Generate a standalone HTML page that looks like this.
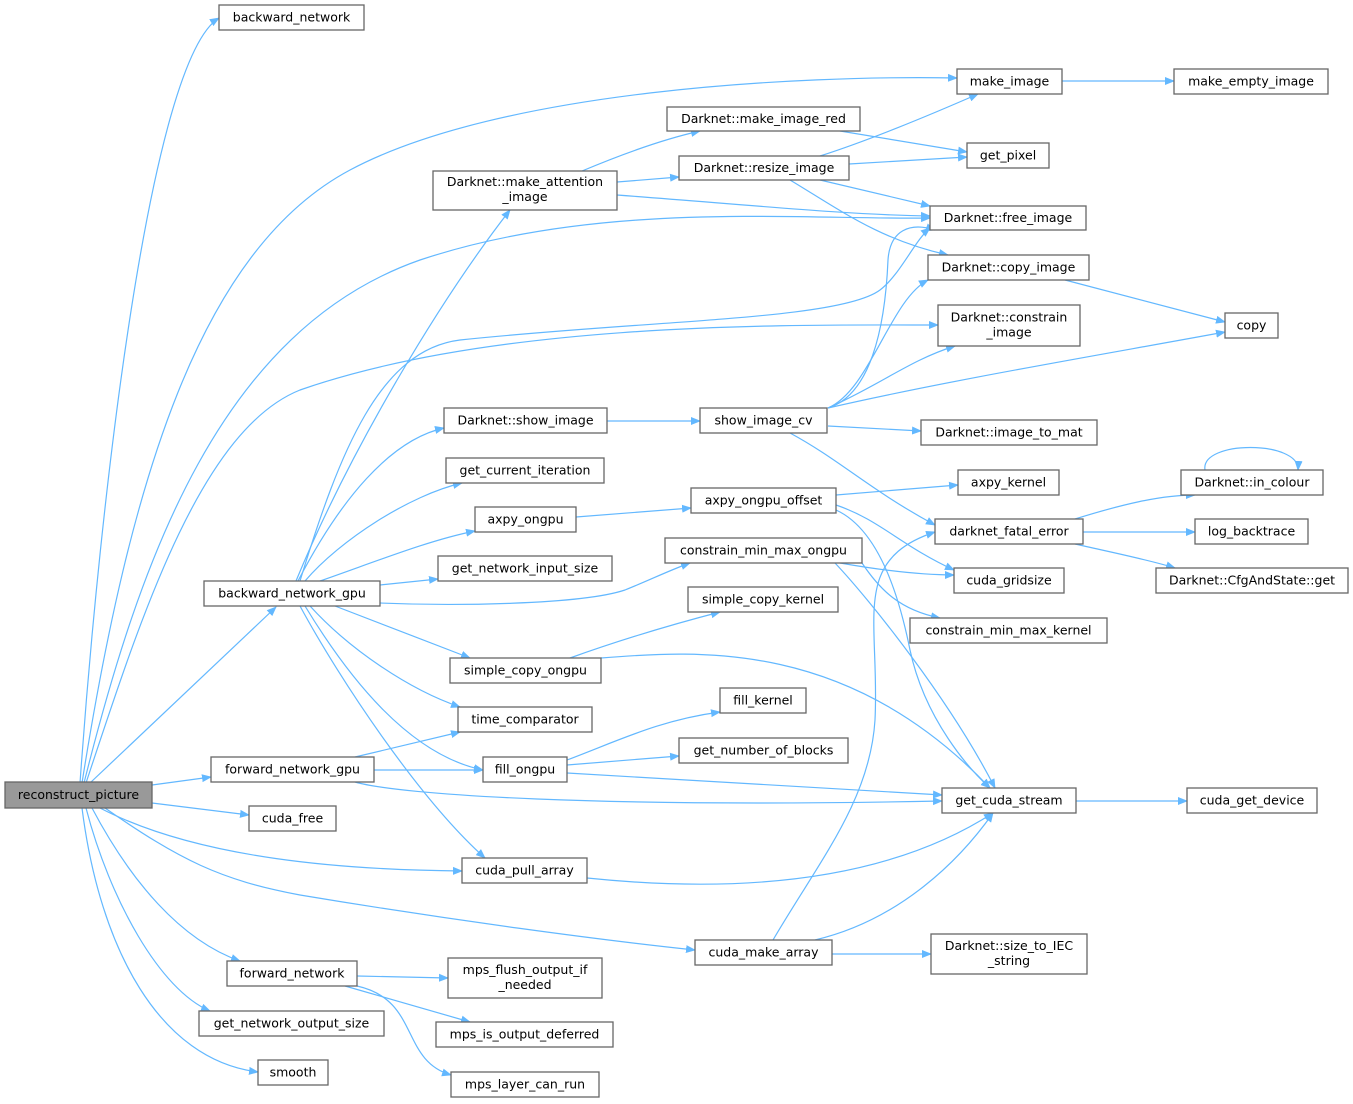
<!DOCTYPE html>
<html><head><meta charset="utf-8"><style>
html,body{margin:0;padding:0;background:#fff}
svg{display:block}
text{font-family:"DejaVu Sans","Liberation Sans",sans-serif;font-size:12.5px;fill:#000}
.n{fill:#fff;stroke:#666;stroke-width:1.3}
.e{fill:none;stroke:#63b8ff;stroke-width:1.2}
</style></head><body>
<svg width="1353" height="1104" viewBox="0 0 1353 1104" xmlns="http://www.w3.org/2000/svg">
<defs><marker id="a" viewBox="0 0 10 10" refX="9" refY="5" markerWidth="10" markerHeight="10" markerUnits="userSpaceOnUse" orient="auto"><path d="M0,1 L10,5 L0,9 z" fill="#63b8ff"/></marker></defs>
<g marker-end="url(#a)">
<path class="e" d="M80,783 C100,500 150,60 219,18"/>
<path class="e" d="M82,783 C130,480 200,250 350,170 C500,90 800,75 957,78"/>
<path class="e" d="M84,783 C140,560 220,330 420,260 C600,200 800,220 930,218"/>
<path class="e" d="M86,783 C140,620 200,430 300,390 C500,320 800,325 938,325"/>
<path class="e" d="M90,783 L276,607"/>
<path class="e" d="M152,785 L211,777"/>
<path class="e" d="M152,803 L249,815"/>
<path class="e" d="M100,808 C200,860 350,870 462,871"/>
<path class="e" d="M105,808 C180,860 220,880 300,895 C450,920 600,940 695,950"/>
<path class="e" d="M92,808 C130,880 180,940 240,961"/>
<path class="e" d="M86,808 C110,900 160,990 210,1011"/>
<path class="e" d="M82,808 C100,950 160,1060 258,1072"/>
<path class="e" d="M296,581 C350,450 440,300 510,210"/>
<path class="e" d="M300,581 C340,450 380,350 460,340 C650,320 840,320 880,290 C900,275 915,240 930,228"/>
<path class="e" d="M298,581 C340,500 390,440 444,428"/>
<path class="e" d="M305,581 C340,540 410,495 462,483"/>
<path class="e" d="M320,581 C380,560 430,540 475,531"/>
<path class="e" d="M380,585 L438,579"/>
<path class="e" d="M380,603 C450,606 580,605 625,590 C650,580 670,570 690,563"/>
<path class="e" d="M335,606 L470,658"/>
<path class="e" d="M310,606 C350,650 410,690 460,707"/>
<path class="e" d="M305,606 C350,680 410,755 483,770"/>
<path class="e" d="M300,606 C340,680 420,800 485,858"/>
<path class="e" d="M355,757 L460,732"/>
<path class="e" d="M372,770 L483,770"/>
<path class="e" d="M355,782 C400,795 600,808 942,801"/>
<path class="e" d="M357,976 L448,978"/>
<path class="e" d="M345,986 L470,1022"/>
<path class="e" d="M357,986 C420,1000 400,1060 451,1075"/>
<path class="e" d="M582,171 C620,155 660,140 700,131"/>
<path class="e" d="M617,182 L679,177"/>
<path class="e" d="M617,195 C750,205 850,215 930,216"/>
<path class="e" d="M840,131 L967,152"/>
<path class="e" d="M1062,81 L1174,81"/>
<path class="e" d="M820,156 C870,140 930,115 978,94"/>
<path class="e" d="M849,164 L967,157"/>
<path class="e" d="M820,180 L930,206"/>
<path class="e" d="M790,180 C840,210 880,240 948,255"/>
<path class="e" d="M1065,280 L1225,322"/>
<path class="e" d="M607,421 L700,421"/>
<path class="e" d="M828,408 C870,395 885,330 888,260 C890,230 910,222 935,230"/>
<path class="e" d="M828,408 C870,390 890,300 928,280"/>
<path class="e" d="M828,408 C880,385 910,360 955,346"/>
<path class="e" d="M828,408 C950,380 1100,355 1225,332"/>
<path class="e" d="M828,426 L921,431"/>
<path class="e" d="M790,433 C840,460 870,490 935,525"/>
<path class="e" d="M576,517 L691,508"/>
<path class="e" d="M836,495 L958,485"/>
<path class="e" d="M836,505 C880,520 900,545 954,570"/>
<path class="e" d="M836,510 C880,530 900,600 910,650 C925,720 970,770 990,788"/>
<path class="e" d="M1075,519 C1120,505 1160,495 1195,495"/>
<path class="e" d="M1083,532 L1195,532"/>
<path class="e" d="M1075,544 C1110,552 1150,560 1175,568"/>
<path class="e" d="M1205,470 C1200,440 1300,440 1298,470"/>
<path class="e" d="M840,563 C880,570 920,575 954,575"/>
<path class="e" d="M862,563 C880,590 900,610 940,618"/>
<path class="e" d="M835,563 C870,600 950,700 995,788"/>
<path class="e" d="M570,658 C620,640 670,625 720,612"/>
<path class="e" d="M601,658 C700,650 850,640 990,788"/>
<path class="e" d="M567,760 C620,740 660,720 720,712"/>
<path class="e" d="M567,765 L679,756"/>
<path class="e" d="M567,773 L942,795"/>
<path class="e" d="M1076,801 L1187,801"/>
<path class="e" d="M587,878 C800,900 920,860 993,813"/>
<path class="e" d="M815,940 C900,920 960,860 993,813"/>
<path class="e" d="M832,954 L931,954"/>
<path class="e" d="M773,940 C820,860 870,800 875,720 C880,620 850,560 935,532"/>
</g>
<rect x="5" y="782" width="147" height="26" fill="#999" stroke="#666" stroke-width="1.3"/><text x="78.5" y="799" text-anchor="middle">reconstruct_picture</text>
<g text-anchor="middle">
<rect class="n" x="219" y="5" width="145" height="25"/><text x="291.5" y="21.5">backward_network</text>
<rect class="n" x="957" y="69" width="105" height="25"/><text x="1009.5" y="85.5">make_image</text>
<rect class="n" x="1174" y="69" width="154" height="25"/><text x="1251" y="85.5">make_empty_image</text>
<rect class="n" x="667" y="107" width="193" height="24"/><text x="763.5" y="123">Darknet::make_image_red</text>
<rect class="n" x="679" y="156" width="170" height="24"/><text x="764" y="172">Darknet::resize_image</text>
<rect class="n" x="967" y="143" width="82" height="25"/><text x="1008" y="159.5">get_pixel</text>
<rect class="n" x="433" y="171" width="184" height="39"/><text x="525" y="186">Darknet::make_attention</text><text x="525" y="201">_image</text>
<rect class="n" x="930" y="206" width="156" height="24"/><text x="1008" y="222">Darknet::free_image</text>
<rect class="n" x="928" y="255" width="161" height="25"/><text x="1008.5" y="271.5">Darknet::copy_image</text>
<rect class="n" x="1225" y="313" width="53" height="25"/><text x="1251.5" y="329.5">copy</text>
<rect class="n" x="938" y="305" width="142" height="41"/><text x="1009" y="321.5">Darknet::constrain</text><text x="1009" y="336.5">_image</text>
<rect class="n" x="444" y="408" width="163" height="25"/><text x="525.5" y="424.5">Darknet::show_image</text>
<rect class="n" x="700" y="408" width="127" height="25"/><text x="763.5" y="424.5">show_image_cv</text>
<rect class="n" x="921" y="420" width="176" height="25"/><text x="1009" y="436.5">Darknet::image_to_mat</text>
<rect class="n" x="446" y="458" width="158" height="25"/><text x="525" y="474.5">get_current_iteration</text>
<rect class="n" x="475" y="507" width="101" height="25"/><text x="525.5" y="523.5">axpy_ongpu</text>
<rect class="n" x="691" y="488" width="145" height="25"/><text x="763.5" y="504.5">axpy_ongpu_offset</text>
<rect class="n" x="958" y="470" width="101" height="25"/><text x="1008.5" y="486.5">axpy_kernel</text>
<rect class="n" x="1181" y="470" width="142" height="25"/><text x="1252" y="486.5">Darknet::in_colour</text>
<rect class="n" x="935" y="519" width="148" height="25"/><text x="1009" y="535.5">darknet_fatal_error</text>
<rect class="n" x="1195" y="519" width="113" height="25"/><text x="1251.5" y="535.5">log_backtrace</text>
<rect class="n" x="665" y="538" width="197" height="25"/><text x="763.5" y="554.5">constrain_min_max_ongpu</text>
<rect class="n" x="954" y="568" width="110" height="25"/><text x="1009" y="584.5">cuda_gridsize</text>
<rect class="n" x="1156" y="568" width="192" height="25"/><text x="1252" y="584.5">Darknet::CfgAndState::get</text>
<rect class="n" x="438" y="556" width="174" height="25"/><text x="525" y="572.5">get_network_input_size</text>
<rect class="n" x="204" y="581" width="176" height="25"/><text x="292" y="597.5">backward_network_gpu</text>
<rect class="n" x="688" y="587" width="150" height="25"/><text x="763" y="603.5">simple_copy_kernel</text>
<rect class="n" x="910" y="618" width="197" height="25"/><text x="1008.5" y="634.5">constrain_min_max_kernel</text>
<rect class="n" x="450" y="658" width="151" height="25"/><text x="525.5" y="674.5">simple_copy_ongpu</text>
<rect class="n" x="720" y="688" width="86" height="25"/><text x="763" y="704.5">fill_kernel</text>
<rect class="n" x="458" y="707" width="134" height="25"/><text x="525" y="723.5">time_comparator</text>
<rect class="n" x="679" y="738" width="169" height="25"/><text x="763.5" y="754.5">get_number_of_blocks</text>
<rect class="n" x="211" y="757" width="163" height="25"/><text x="292.5" y="773.5">forward_network_gpu</text>
<rect class="n" x="483" y="757" width="84" height="25"/><text x="525" y="773.5">fill_ongpu</text>
<rect class="n" x="942" y="788" width="134" height="25"/><text x="1009" y="804.5">get_cuda_stream</text>
<rect class="n" x="1187" y="788" width="130" height="25"/><text x="1252" y="804.5">cuda_get_device</text>
<rect class="n" x="249" y="806" width="87" height="25"/><text x="292.5" y="822.5">cuda_free</text>
<rect class="n" x="462" y="858" width="125" height="25"/><text x="524.5" y="874.5">cuda_pull_array</text>
<rect class="n" x="695" y="940" width="137" height="25"/><text x="763.5" y="956.5">cuda_make_array</text>
<rect class="n" x="931" y="934" width="156" height="40"/><text x="1009" y="950">Darknet::size_to_IEC</text><text x="1009" y="965">_string</text>
<rect class="n" x="227" y="961" width="130" height="25"/><text x="292" y="977.5">forward_network</text>
<rect class="n" x="448" y="958" width="154" height="40"/><text x="525" y="974">mps_flush_output_if</text><text x="525" y="989">_needed</text>
<rect class="n" x="199" y="1011" width="185" height="25"/><text x="291.5" y="1027.5">get_network_output_size</text>
<rect class="n" x="436" y="1022" width="177" height="25"/><text x="524.5" y="1038.5">mps_is_output_deferred</text>
<rect class="n" x="258" y="1060" width="70" height="25"/><text x="293" y="1076.5">smooth</text>
<rect class="n" x="451" y="1072" width="148" height="25"/><text x="525" y="1088.5">mps_layer_can_run</text>
</g>
</svg>
</body></html>
